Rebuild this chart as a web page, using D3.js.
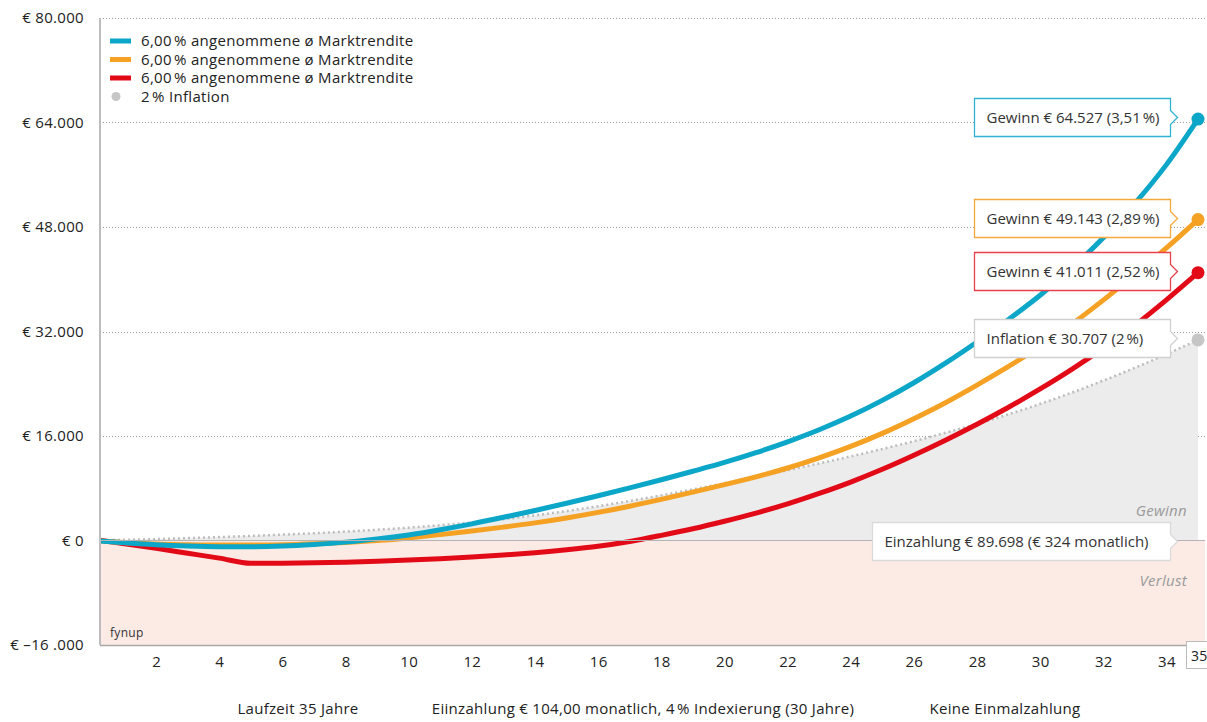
<!DOCTYPE html>
<html>
<head>
<meta charset="utf-8">
<script src="https://cdn.jsdelivr.net/npm/d3@7"></script>
<style>
  body { margin: 0; background: #fff; }
  svg { font-family: "Open Sans", sans-serif; letter-spacing: 0.3px; }
</style>
</head>
<body>
<div id="chart"></div>
<script>
// years on the x axis
var years = [0,1,2,3,4,5,6,7,8,9,10,11,12,13,14,15,16,17,18,19,20,21,22,23,24,25,26,27,28,29,30,31,32,33,34,35];

// gain per year
var blueGain = [0,-350,-650,-850,-950,-950,-850,-600,-250,250,850,1650,2550,3550,4600,5700,6850,8050,9300,10600,11950,13450,15100,16950,19050,21450,24150,27150,30400,33850,37550,41700,46350,51600,57550,64527];
var orangeGain = [0,-300,-550,-650,-700,-700,-650,-500,-300,0,400,900,1450,2050,2700,3450,4300,5250,6300,7400,8550,9750,11100,12650,14400,16400,18650,21100,23800,26650,29700,33100,36800,40700,44800,49143];
var redGain = [200,-500,-1200,-1950,-2700,-3500,-3470,-3410,-3320,-3190,-3000,-2780,-2520,-2220,-1860,-1420,-880,-150,780,1800,2950,4200,5600,7200,8950,10900,13050,15350,17800,20400,23200,26200,29450,32950,36850,41011];
var inflation = [0,100,220,360,520,700,900,1120,1370,1650,1970,2340,2770,3270,3850,4510,5250,6050,6910,7820,8770,9750,10760,11800,12880,14010,15210,16490,17860,19330,20910,22630,24480,26440,28530,30707];

var legendLabels = ["6,00\u202F% angenommene ø Marktrendite", "6,00\u202F% angenommene ø Marktrendite", "6,00\u202F% angenommene ø Marktrendite", "2\u202F% Inflation"];
var calloutTexts = ["Gewinn € 64.527 (3,51\u202F%)", "Gewinn € 49.143 (2,89\u202F%)", "Gewinn € 41.011 (2,52\u202F%)", "Inflation € 30.707 (2\u202F%)"];
var depositText = "Einzahlung € 89.698 (€ 324 monatlich)";

var yTicks = [-16000, 0, 16000, 32000, 48000, 64000, 80000];
var yTickLabels = ["€ –16 .000", "€ 0", "€ 16.000", "€ 32.000", "€ 48.000", "€ 64.000", "€ 80.000"];
var xTicks = [2,4,6,8,10,12,14,16,18,20,22,24,26,28,30,32,34];
var footerTexts = ["Laufzeit 35 Jahre", "Eiinzahlung € 104,00 monatlich, 4\u202F% Indexierung (30 Jahre)", "Keine Einmalzahlung"];

var colors = { blue: "#0ba6c8", orange: "#f5a124", red: "#e30a17", gray: "#c6c6c6" };

var W = 1207, H = 722;
var plotLeft = 100, plotRight = 1205, plotTop = 18, plotBottom = 645;
var fs = 15;

var svg = d3.select("#chart").append("svg")
    .attr("width", W)
    .attr("height", H);

var x = d3.scaleLinear().domain([0, 35]).range([93, 1198]);
var y = d3.scaleLinear().domain([-16000, 80000]).range([plotBottom, plotTop]);

svg.append("clipPath").attr("id", "plotclip")
  .append("rect")
    .attr("x", plotLeft).attr("y", 0)
    .attr("width", W - plotLeft).attr("height", plotBottom);

// loss zone
svg.append("rect")
    .attr("x", plotLeft).attr("y", y(0))
    .attr("width", plotRight - plotLeft).attr("height", y(-16000) - y(0))
    .attr("fill", "#fcebe5");

// grid lines
svg.append("g").selectAll("line")
    .data(yTicks.filter(function(d){ return d > 0; }))
  .enter().append("line")
    .attr("x1", plotLeft).attr("x2", plotRight)
    .attr("y1", function(d){ return Math.round(y(d)) + 0.5; })
    .attr("y2", function(d){ return Math.round(y(d)) + 0.5; })
    .attr("stroke", "#9a9a9a")
    .attr("stroke-width", 1)
    .attr("stroke-dasharray", "1,2");

var plot = svg.append("g").attr("clip-path", "url(#plotclip)");

// inflation area
var area = d3.area()
    .x(function(d, i){ return x(years[i]); })
    .y0(y(0))
    .y1(function(d){ return y(d); })
    .curve(d3.curveMonotoneX);

plot.append("path")
    .datum(inflation)
    .attr("d", area)
    .attr("fill", "#ececec");

// zero line
svg.append("line")
    .attr("x1", plotLeft).attr("x2", plotRight)
    .attr("y1", y(0)).attr("y2", y(0))
    .attr("stroke", "#b4b4b4")
    .attr("stroke-width", 1.2);

var line = d3.line()
    .x(function(d, i){ return x(years[i]); })
    .y(function(d){ return y(d); })
    .curve(d3.curveMonotoneX);

plot.append("path")
    .datum(inflation)
    .attr("d", line)
    .attr("fill", "none")
    .attr("stroke", "#bdbdbd")
    .attr("stroke-width", 2.5)
    .attr("stroke-dasharray", "2,3");

var series = [
  { values: blueGain, color: colors.blue },
  { values: orangeGain, color: colors.orange },
  { values: redGain, color: colors.red }
];

series.slice().reverse().forEach(function(s){
  plot.append("path")
      .datum(s.values)
      .attr("d", line)
      .attr("fill", "none")
      .attr("stroke", s.color)
      .attr("stroke-width", 5)
      .attr("stroke-linejoin", "round");
});

// axes lines
svg.append("line")
    .attr("x1", plotLeft).attr("x2", plotLeft)
    .attr("y1", plotTop).attr("y2", plotBottom)
    .attr("stroke", "#bdbdbd").attr("stroke-width", 2);
svg.append("line")
    .attr("x1", plotLeft).attr("x2", 1186)
    .attr("y1", plotBottom + 0.5).attr("y2", plotBottom + 0.5)
    .attr("stroke", "#a8a8a8").attr("stroke-width", 1.5);

// y axis labels
var yAxis = d3.axisLeft(y)
    .tickValues(yTicks)
    .tickSize(0)
    .tickPadding(16)
    .tickFormat(function(d, i){ return yTickLabels[i]; });
var gy = svg.append("g").attr("transform", "translate(" + plotLeft + ",0)").call(yAxis);
gy.select(".domain").remove();
gy.selectAll("text").attr("font-size", fs).attr("fill", "#222").attr("font-family", "Open Sans, sans-serif");

// x axis labels
var xAxis = d3.axisBottom(x)
    .tickValues(xTicks)
    .tickSize(0)
    .tickPadding(11)
    .tickFormat(function(d){ return d; });
var gx = svg.append("g").attr("transform", "translate(0," + plotBottom + ")").call(xAxis);
gx.select(".domain").remove();
gx.selectAll("text").attr("font-size", fs).attr("fill", "#222").attr("font-family", "Open Sans, sans-serif");

// "35" marker box at end of x axis
svg.append("rect")
    .attr("x", 1186.5).attr("y", 641.5)
    .attr("width", 24).attr("height", 27)
    .attr("fill", "#fff").attr("stroke", "#bbb");
svg.append("text")
    .attr("x", 1191).attr("y", 661)
    .attr("font-size", 14).attr("fill", "#222")
    .text(x.domain()[1]);

// end dots
var lastIdx = years.length - 1;
[{ v: blueGain, c: colors.blue }, { v: orangeGain, c: colors.orange }, { v: redGain, c: colors.red }, { v: inflation, c: colors.gray }]
  .forEach(function(d){
    svg.append("circle")
        .attr("cx", x(years[lastIdx]))
        .attr("cy", y(d.v[lastIdx]))
        .attr("r", 6.5)
        .attr("fill", d.c);
  });

// callouts
function callout(x0, x1, cy, txt, stroke) {
  var h = 38, n = 7;
  var t = cy - h / 2, b = cy + h / 2;
  var p = "M" + x0 + "," + t + "H" + x1 + "V" + (cy - n) + "L" + (x1 + n) + "," + cy +
          "L" + x1 + "," + (cy + n) + "V" + b + "H" + x0 + "Z";
  svg.append("path")
      .attr("d", p)
      .attr("fill", "#fff")
      .attr("stroke", stroke)
      .attr("stroke-width", 1.3);
  svg.append("text")
      .attr("x", x0 + 12).attr("y", cy + 5)
      .attr("font-size", fs).attr("fill", "#333")
      .attr("letter-spacing", 0)
      .text(txt);
}

var calloutSeries = [
  { v: blueGain, stroke: "#2fb3d3" },
  { v: orangeGain, stroke: "#f6a83a" },
  { v: redGain, stroke: "#e8414c" },
  { v: inflation, stroke: "#d0d0d0" }
];
calloutSeries.forEach(function(d, i){
  callout(974.5, 1170.5, Math.round(y(d.v[lastIdx])) - 1.5, calloutTexts[i], d.stroke);
});
callout(872.5, 1170.5, Math.round(y(0)) + 0.5, depositText, "#dadada");

// zone labels
svg.append("text")
    .attr("x", 1187).attr("y", 516)
    .attr("text-anchor", "end")
    .attr("font-size", fs).attr("font-style", "italic").attr("fill", "#9a9a9a")
    .text("Gewinn");
svg.append("text")
    .attr("x", 1187).attr("y", 586)
    .attr("text-anchor", "end")
    .attr("font-size", fs).attr("font-style", "italic").attr("fill", "#9a9a9a")
    .text("Verlust");

svg.append("text")
    .attr("x", 110).attr("y", 637)
    .attr("font-size", 12).attr("fill", "#333")
    .text("fynup");

// legend
var legend = svg.append("g").attr("transform", "translate(110,41)");
legendLabels.forEach(function(lbl, i){
  var g = legend.append("g").attr("transform", "translate(0," + (i * 18.5) + ")");
  if (i < 3) {
    g.append("line")
        .attr("x1", 0).attr("x2", 21)
        .attr("stroke", [colors.blue, colors.orange, colors.red][i])
        .attr("stroke-width", 5);
  } else {
    g.append("circle").attr("cx", 6).attr("cy", 0).attr("r", 4.5).attr("fill", colors.gray);
  }
  g.append("text")
      .attr("x", 31).attr("y", 5)
      .attr("font-size", fs).attr("fill", "#222")
      .text(lbl);
});

// footer
var footerX = [298, 643, 1005];
footerTexts.forEach(function(t, i){
  svg.append("text")
      .attr("x", footerX[i]).attr("y", 714)
      .attr("text-anchor", "middle")
      .attr("font-size", fs).attr("fill", "#222")
      .text(t);
});
</script>
</body>
</html>
